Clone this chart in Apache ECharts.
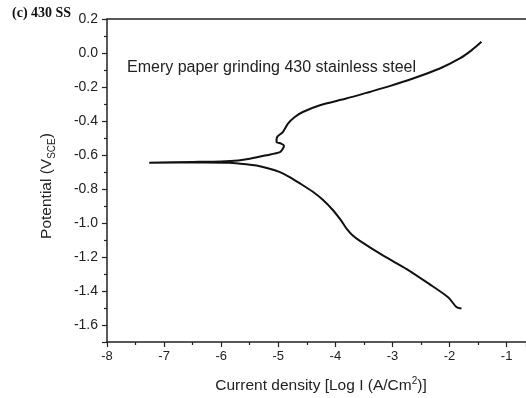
<!DOCTYPE html>
<html>
<head>
<meta charset="utf-8">
<script src="https://cdn.jsdelivr.net/npm/echarts@6/dist/echarts.min.js"></script>
<style>
  html, body { margin: 0; padding: 0; background: #fff; }
  #chart { width: 526px; height: 398px; }
</style>
</head>
<body>
<div id="chart"></div>
<script>
// polarization curve, scanned from the cathodic end to the anodic end
const logCurrent = [
  -1.79, -1.88, -2.02, -2.35, -2.75, -3.16, -3.57, -3.70, -3.80, -3.90, -4.04, -4.21,
  -4.40, -4.62, -4.80, -4.97, -5.15, -5.38, -5.50, -5.85, -6.30, -7.26,
  -6.50, -6.00, -5.70, -5.50, -5.21, -4.97, -4.92, -4.90, -4.95, -5.03, -5.02,
  -4.92, -4.83, -4.71, -4.57, -4.27, -3.81, -3.40, -3.05, -2.64, -2.17, -1.82,
  -1.61, -1.44
];
const potential = [
  -1.503, -1.494, -1.438, -1.360, -1.271, -1.192, -1.105, -1.072, -1.035, -0.985, -0.925, -0.866,
  -0.815, -0.767, -0.730, -0.701, -0.681, -0.662, -0.657, -0.646, -0.644, -0.645,
  -0.641, -0.638, -0.632, -0.622, -0.602, -0.583, -0.563, -0.545, -0.533, -0.524, -0.494,
  -0.465, -0.415, -0.376, -0.347, -0.307, -0.268, -0.229, -0.195, -0.150, -0.091, -0.032,
  0.017, 0.066
];

const xMin = -8, xMax = -0.66, xStep = 1;
const yMin = -1.7, yMax = 0.2;

const curve = logCurrent.map((x, i) => [x, potential[i]]);

const chart = echarts.init(document.getElementById("chart"));

const axisLine = {onZero: false, lineStyle: {color: "#222", width: 1.5}};
const sans = "Liberation Sans, Arial, sans-serif";

chart.setOption({
  animation: false,
  grid: {left: 107, top: 19, right: 0, bottom: 56},
  xAxis: [
    {
      type: "value",
      min: xMin,
      max: xMax,
      interval: xStep,
      axisLine: axisLine,
      axisTick: {length: 5, lineStyle: {color: "#222", width: 1.2}},
      minorTick: {show: true, splitNumber: 2, length: 3, lineStyle: {color: "#222", width: 1.2}},
      splitLine: {show: false},
      axisLabel: {color: "#222", fontSize: 13, fontFamily: sans, margin: 8, showMaxLabel: false}
    },
    {
      type: "value",
      position: "top",
      min: xMin,
      max: xMax,
      axisLine: axisLine,
      axisTick: {show: false},
      axisLabel: {show: false},
      splitLine: {show: false}
    }
  ],
  yAxis: {
    type: "value",
    min: yMin,
    max: yMax,
    splitNumber: 9,
    axisLine: axisLine,
    axisTick: {length: 5, lineStyle: {color: "#222", width: 1.2}},
    minorTick: {show: true, splitNumber: 2, length: 3, lineStyle: {color: "#222", width: 1.2}},
    splitLine: {show: false},
    axisLabel: {
      color: "#222", fontSize: 14, fontFamily: sans, margin: 9, showMinLabel: false,
      formatter: v => v.toFixed(1)
    }
  },
  series: [
    {
      type: "line",
      data: curve,
      showSymbol: false,
      smooth: 0.25,
      lineStyle: {color: "#111", width: 2}
    }
  ],
  graphic: [
    {
      type: "text", left: 12, top: 6,
      style: {text: "(c) 430 SS", font: "bold 14px 'Liberation Serif', 'Times New Roman', serif", fill: "#111"}
    },
    {
      type: "text", x: 127, y: 68,
      style: {text: "Emery paper grinding 430 stainless steel", fontSize: 16, fontFamily: sans,
        fill: "#222", verticalAlign: "middle"}
    },
    {
      type: "text", x: 321, y: 386,
      style: {
        text: "{a|Current density [Log I (A/Cm}{b|2}{a|)]}",
        align: "center", verticalAlign: "middle",
        rich: {
          a: {fontSize: 15.5, fontFamily: sans, fill: "#222", lineHeight: 20},
          b: {fontSize: 10, fontFamily: sans, fill: "#222", lineHeight: 12, verticalAlign: "top"}
        }
      }
    },
    {
      type: "text", x: 47, y: 186, rotation: Math.PI / 2,
      style: {
        text: "{a|Potential (V}{b|SCE}{a|)}",
        align: "center", verticalAlign: "middle",
        rich: {
          a: {fontSize: 15.5, fontFamily: sans, fill: "#222", lineHeight: 20},
          b: {fontSize: 10, fontFamily: sans, fill: "#222", lineHeight: 11, verticalAlign: "bottom"}
        }
      }
    }
  ]
});
</script>
</body>
</html>
